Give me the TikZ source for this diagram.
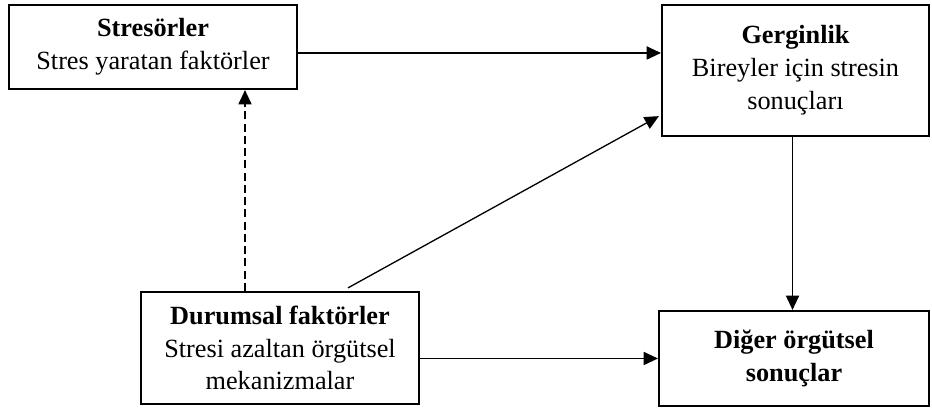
\documentclass[tikz,border=0pt]{standalone}
\usepackage{fontspec}
\setmainfont{Liberation Serif}
\usetikzlibrary{arrows.meta,positioning,calc}

\begin{document}
\begin{tikzpicture}[x=0.457pt, y=0.457pt,
    box/.style={rectangle, draw, line width=1pt, align=center, inner sep=0pt, font=\fontsize{12}{15}\selectfont},
    >={Triangle[length=6.5pt, width=6pt]}]

    \useasboundingbox (0,0) rectangle (932,409);

    \node[box, minimum width=131.6pt, minimum height=38.4pt] (stres) at (153,362) {\textbf{Stresörler}\\Stres yaratan faktörler};
    \node[box, minimum width=122pt, minimum height=59.9pt] (gerg) at (795.5,338.5) {\textbf{Gerginlik}\\Bireyler için stresin\\sonuçları};
    \node[box, minimum width=127pt, minimum height=51.2pt] (dur) at (280,61) {\textbf{Durumsal faktörler}\\Stresi azaltan örgütsel\\mekanizmalar};
    \node[box, minimum width=123.4pt, minimum height=43.4pt] (dig) at (794,50.5) {\textbf{Diğer örgütsel}\\\textbf{sonuçlar}};

    \coordinate (a1) at ($(stres.east)+(0,-6)$);
    \coordinate (a2) at ($(dur.north)+(68,3)$);
    \coordinate (a3) at ($(dur.north)+(-35,0)$);
    \coordinate (a4) at ($(gerg.south)+(-3,0)$);

    \draw[->, line width=0.6pt] (a1) -- (a1 -| gerg.west);
    \draw[->, line width=0.6pt] (a2) -- ($(gerg.south west)+(-2,21)$);
    \draw[->, line width=0.6pt] (a4) -- (a4 |- dig.north);
    \draw[->, line width=0.6pt] (dur.east |- dig.west) -- (dig.west);
    \draw[->, line width=0.6pt, dash pattern=on 3.6pt off 2pt] (a3) -- (a3 |- stres.south);
\end{tikzpicture}
\end{document}
